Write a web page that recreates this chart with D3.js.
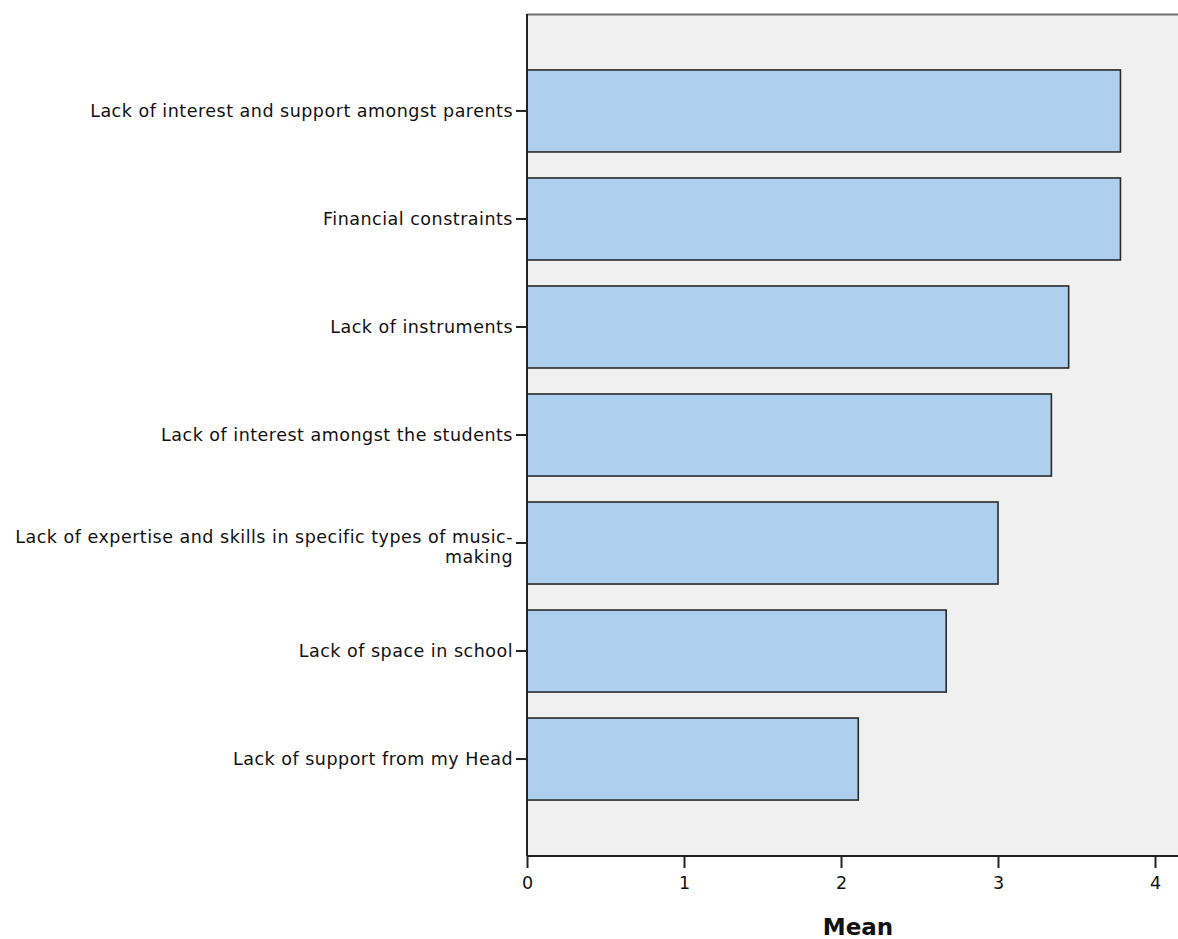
<!DOCTYPE html>
<html><head><meta charset="utf-8">
<script src="https://cdn.jsdelivr.net/npm/d3@7"></script>
<style>body{margin:0;background:#fff}svg{display:block}</style>
</head><body>
<script>
const categories = [
  ["Lack of interest and support amongst parents"],
  ["Financial constraints"],
  ["Lack of instruments"],
  ["Lack of interest amongst the students"],
  ["Lack of expertise and skills in specific types of music-", "making"],
  ["Lack of space in school"],
  ["Lack of support from my Head"]
];
const means = [3.78, 3.78, 3.45, 3.34, 3.00, 2.67, 2.11];
const xTicks = [0, 1, 2, 3, 4];
const xTitle = "Mean";

const W = 1178, H = 939;
const L = 527, T = 14, R = 1180, B = 856;
const svg = d3.select("body").append("svg").attr("width", W).attr("height", H);
const font = "DejaVu Sans, sans-serif";

const x = d3.scaleLinear().domain([0, 4]).range([L, L + 4 * 157]);
const ids = categories.map((d, i) => i);
const y = d3.scaleBand().domain(ids).range([T, B]).paddingInner(0.2407).paddingOuter(0.518);

svg.append("rect").attr("x", L).attr("y", T).attr("width", R - L).attr("height", B - T).attr("fill", "#f0f0f0");
svg.append("line").attr("x1", L).attr("x2", R).attr("y1", T + 0.5).attr("y2", T + 0.5).attr("stroke", "#6e6e6e").attr("stroke-width", 2);

svg.selectAll("rect.bar").data(means).join("rect").attr("class", "bar")
  .attr("x", x(0)).attr("y", (d, i) => y(i))
  .attr("width", d => x(d) - x(0)).attr("height", y.bandwidth())
  .attr("fill", "#aecfee").attr("stroke", "#2a2a2a").attr("stroke-width", 1.6);

// y axis
const ya = svg.append("g").attr("transform", `translate(${L},0)`)
  .call(d3.axisLeft(y).tickSize(11).tickFormat(""));
ya.select(".domain").attr("d", `M0,${T}V${B}`).attr("stroke", "#222").attr("stroke-width", 2);
ya.selectAll(".tick line").attr("stroke", "#222").attr("stroke-width", 2);
ya.selectAll(".tick").each(function(d) {
  const lines = categories[d];
  const t = d3.select(this).append("text").attr("fill", "#111")
    .attr("text-anchor", "end").style("font-family", font).style("font-size", "17.5px")
    .style("letter-spacing", "0.5px");
  const lh = 20;
  const y0 = lines.length > 1 ? -6 : 0;
  lines.forEach((s, k) => t.append("tspan").attr("x", -14).attr("y", y0 + k * lh).attr("dy", "0.35em").text(s));
});

// x axis
const xa = svg.append("g").attr("transform", `translate(0,${B})`)
  .call(d3.axisBottom(x).tickValues(xTicks).tickSize(12).tickPadding(9).tickFormat(d3.format("d")));
xa.select(".domain").attr("d", `M${L},0H${R}`).attr("stroke", "#222").attr("stroke-width", 2);
xa.selectAll(".tick line").attr("stroke", "#222").attr("stroke-width", 2);
xa.selectAll(".tick text").attr("fill", "#111").style("font-family", font).style("font-size", "17.5px");

svg.append("text").attr("x", 858).attr("y", 935).attr("text-anchor", "middle")
  .style("font-family", font).style("font-size", "23px").style("font-weight", "bold").attr("fill", "#111").text(xTitle);
</script>
</body></html>
